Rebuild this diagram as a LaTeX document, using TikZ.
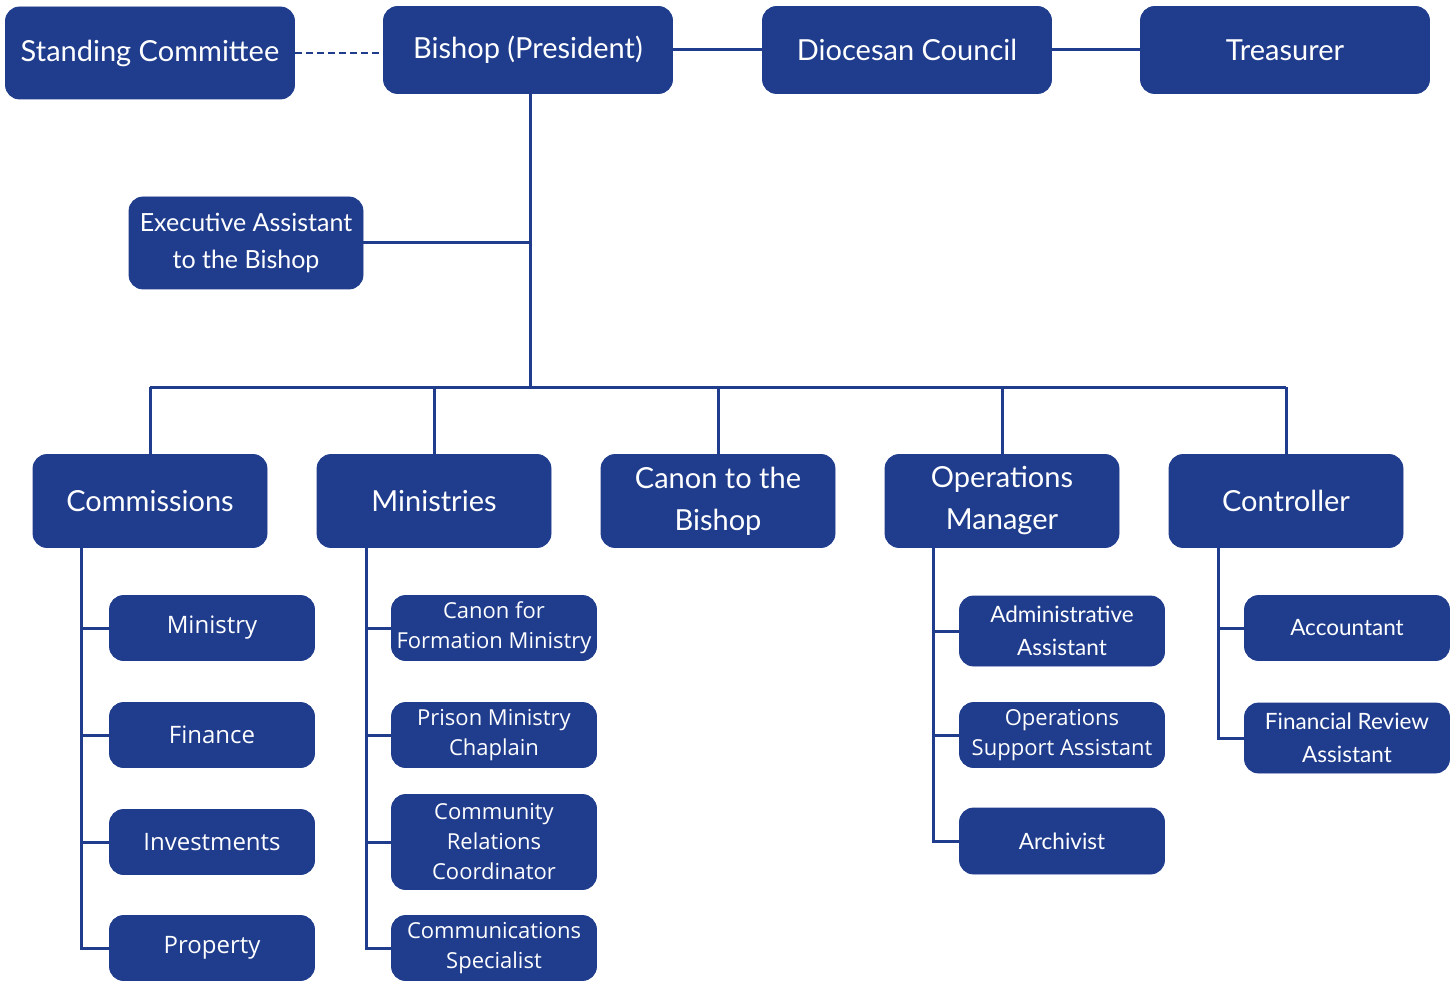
\documentclass[tikz,border=0pt]{standalone}
\usepackage{fontspec}
\setmainfont{Lato}
\newfontfamily\canva{Open Sans}
\definecolor{navy}{RGB}{31,60,141}
\tikzset{
  box/.style={draw=navy, fill=navy, rounded corners=14pt, text=white, align=center, inner sep=0pt, line width=0.8pt},
  big/.style={box, minimum width=289pt, minimum height=87pt, font=\fontsize{29}{35}\selectfont},
  mid/.style={box, minimum width=234pt, minimum height=93pt, font=\fontsize{29}{42}\selectfont},
  small/.style={box, minimum width=205pt, minimum height=65pt, font=\fontsize{22.5}{30}\selectfont},
  smallc/.style={box, minimum width=205pt, minimum height=65pt, font=\canva\fontsize{24}{30}\selectfont},
  smallm/.style={box, minimum width=205pt, minimum height=65pt, font=\canva\fontsize{22}{30}\selectfont},
  link/.style={draw=navy, line width=3pt},
}
\begin{document}
\begin{tikzpicture}[x=1pt,y=-1pt]
\useasboundingbox (0,0) rectangle (1456,981);
% top row
\node[big, minimum height=92pt] (standing) at (150,53) {Standing Committee};
\node[big] (bishop) at (528,50) {Bishop (President)};
\node[big] (council) at (907,50) {Diocesan Council};
\node[big] (treasurer) at (1285,50) {Treasurer};
% executive assistant
\node[box, minimum width=234pt, minimum height=92pt, font=\fontsize{25}{37}\selectfont] (exec) at (246,243) {Executive Assistant\\to the Bishop};
% level 2
\node[mid] (comm) at (150,501) {Commissions};
\node[mid] (min) at (434,501) {Ministries};
\node[mid] (canon) at (718,501) {Canon to the\\Bishop};
\node[mid] (ops) at (1002,501) {Operations\\Manager};
\node[mid] (ctrl) at (1286,501) {Controller};
% commissions children
\node[smallc] (c1) at (212,628) {Ministry};
\node[smallc] (c2) at (212,735) {Finance};
\node[smallc] (c3) at (212,842) {Investments};
\node[smallc] (c4) at (212,948) {Property};
% ministries children
\node[smallm] (m1) at (494,628) {Canon for\\Formation Ministry};
\node[smallm] (m2) at (494,735) {Prison Ministry\\Chaplain};
\node[smallm, minimum height=95pt] (m3) at (494,842) {Community\\Relations\\Coordinator};
\node[smallm] (m4) at (494,948) {Communications\\Specialist};
% operations children
\node[small, minimum height=70pt, font=\fontsize{22.5}{33}\selectfont] (o1) at (1062,631) {Administrative\\Assistant};
\node[smallm] (o2) at (1062,735) {Operations\\Support Assistant};
\node[small, minimum height=66pt] (o3) at (1062,841) {Archivist};
% controller children
\node[small] (k1) at (1347,628) {Accountant};
\node[small, minimum height=70pt, font=\fontsize{22.5}{33}\selectfont] (k2) at (1347,738) {Financial Review\\Assistant};
% top connectors
\draw[link, line width=2.5pt, dashed, dash pattern=on 7pt off 4pt] (standing.east) -- (standing.east -| bishop.west);
\draw[link] (bishop.east) -- (council.west);
\draw[link] (council.east) -- (treasurer.west);
% bus
\coordinate (bus) at (530,387);
\draw[link] (bishop.south -| bus) -- (bus);
\draw[link] (exec.east) -- (exec.east -| bus);
\draw[link] (comm.north |- bus) -- (ctrl.north |- bus);
\foreach \n in {comm,min,canon,ops,ctrl}{
  \draw[link] (\n.north) -- (\n.north |- bus);
}
% trunks
\coordinate (tc) at (81,548);
\coordinate (tm) at (366,548);
\coordinate (to) at (933,548);
\coordinate (tk) at (1218,548);
\foreach \c in {c1,c2,c3,c4}{\draw[link] (tc) |- (\c.west);}
\foreach \c in {m1,m2,m3,m4}{\draw[link] (tm) |- (\c.west);}
\foreach \c in {o1,o2,o3}{\draw[link] (to) |- (\c.west);}
\foreach \c in {k1,k2}{\draw[link] (tk) |- (\c.west);}
\end{tikzpicture}
\end{document}
